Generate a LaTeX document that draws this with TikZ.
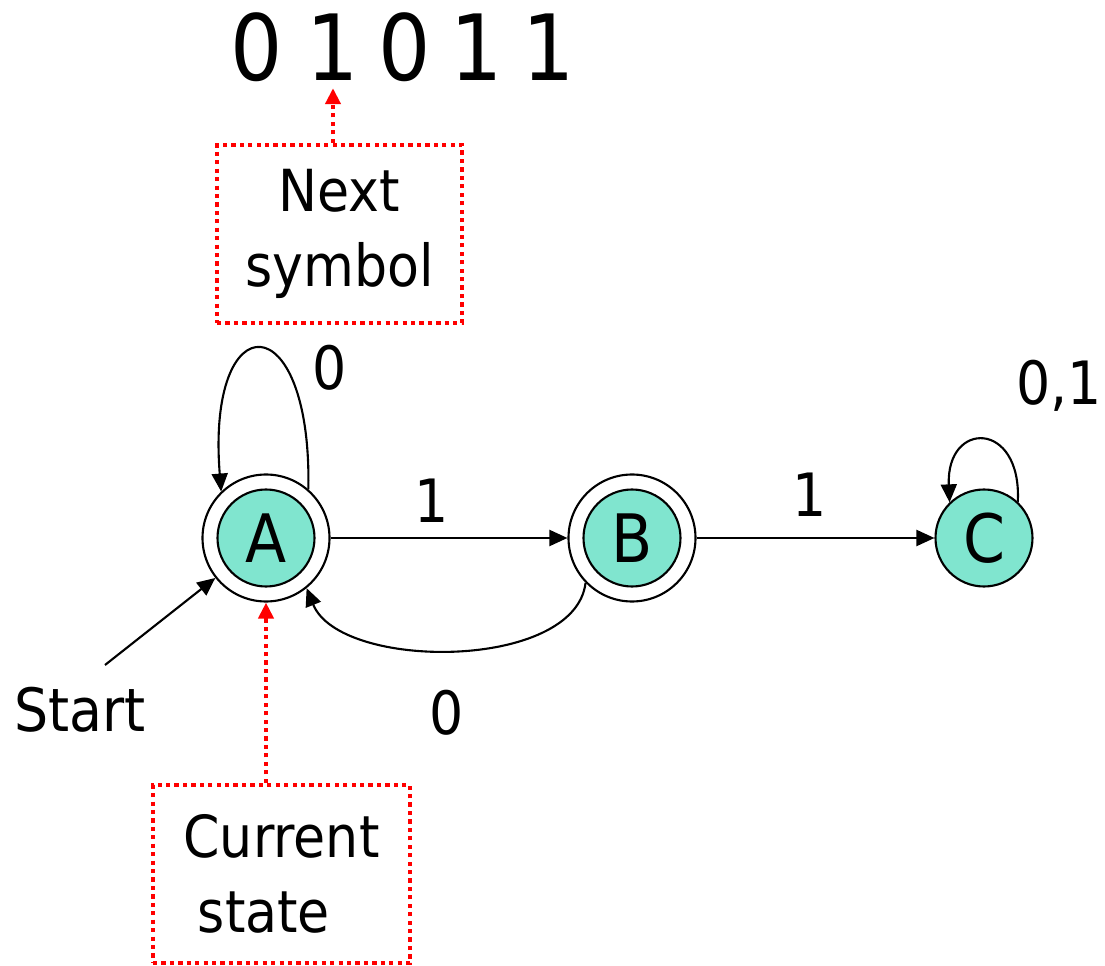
\documentclass[tikz,border=0pt]{standalone}
\usepackage{fontspec}
\setmainfont{DejaVu Sans}[FakeStretch=0.9]
\usepackage{tikz}
\usetikzlibrary{arrows.meta,calc,positioning}
\definecolor{statefill}{RGB}{128,229,207}
\tikzset{
  state/.style={
    shape = circle,
    draw,
    fill = statefill,
    inner sep = 0pt,
    minimum size = 1.94cm,
    line width = 1.2pt,
    font = \fontsize{38}{42}\selectfont
  },
  ring/.style={
    shape = circle,
    draw,
    inner sep = 0pt,
    minimum size = 2.54cm,
    line width = 1.2pt
  },
  edge/.style={
    line width = 1.2pt,
    -{Triangle[length=0.36cm,width=0.32cm]}
  },
  lbl/.style={
    anchor = base,
    inner sep = 0pt,
    font = \fontsize{34}{40}\selectfont
  },
  digit/.style={
    inner sep = 4pt,
    font = \fontsize{52}{58}\selectfont
  },
  callout/.style={
    shape = rectangle,
    draw = red,
    line width = 2.5pt,
    dash pattern = on 2.4pt off 2.4pt,
    align = center,
    font = \fontsize{33}{42.5}\selectfont
  },
  pointer/.style={
    red,
    line width = 2.5pt,
    dash pattern = on 2.4pt off 2.4pt,
    -{Triangle[length=0.32cm,width=0.3cm]}
  }
}
\begin{document}
\begin{tikzpicture}
        \useasboundingbox (0,0) rectangle (22.1,-19.32);

        % input string
        \foreach \d/\x [count=\i] in {0/5.14,1/6.66,0/8.10,1/9.54,1/10.98}
            \node[digit] (d\i) at (\x,-0.95) {\d};

        % states
        \node[state] (A) at (5.32,-10.76) {A};
        \node[ring] (Aout) at (A) {};
        \node[state] (B) at (12.64,-10.76) {B};
        \node[ring] (Bout) at (B) {};
        \node[state] (C) at (19.68,-10.76) {C};

        % transitions
        \draw[edge] (Aout) -- (Bout);
        \draw[edge] (Bout) -- (C);
        \draw[edge] (Bout.224) .. controls (11.5,-13.42) and (6.8,-13.42) .. (Aout.-51);
        \draw[edge] (Aout.49) .. controls (6.24,-6.04) and (4.12,-6.04) .. (Aout.134);
        \draw[edge] (C.47) .. controls (20.44,-8.4) and (18.92,-8.4) .. (C.134);

        \node[lbl] (lAA) at (6.6,-7.8) {0};
        \node[lbl] (lAB) at (8.64,-10.46) {1};
        \node[lbl] (lBC) at (16.2,-10.34) {1};
        \node[lbl] (lBA) at (8.94,-14.7) {0};
        \node[lbl] (lCC) at (21.18,-8.1) {0,1};

        % start
        \coordinate (s0) at (2.1,-13.3);
        \node[lbl] (start) at (1.6,-14.64) {Start};
        \draw[edge] (s0) -- (Aout);

        % pointers
        \node[callout, minimum width=4.9cm, minimum height=3.56cm] (nextbox) at (6.79,-4.68) {Next\\symbol};
        \node[callout, minimum width=5.14cm, minimum height=3.56cm] (curbox) at (5.63,-17.48) {Current\\state\hbox to 0.7cm{}};
        \draw[pointer] (d2 |- nextbox.north) -- (d2.south);
        \draw[pointer] (Aout |- curbox.north) -- (Aout.south);
\end{tikzpicture}
\end{document}
